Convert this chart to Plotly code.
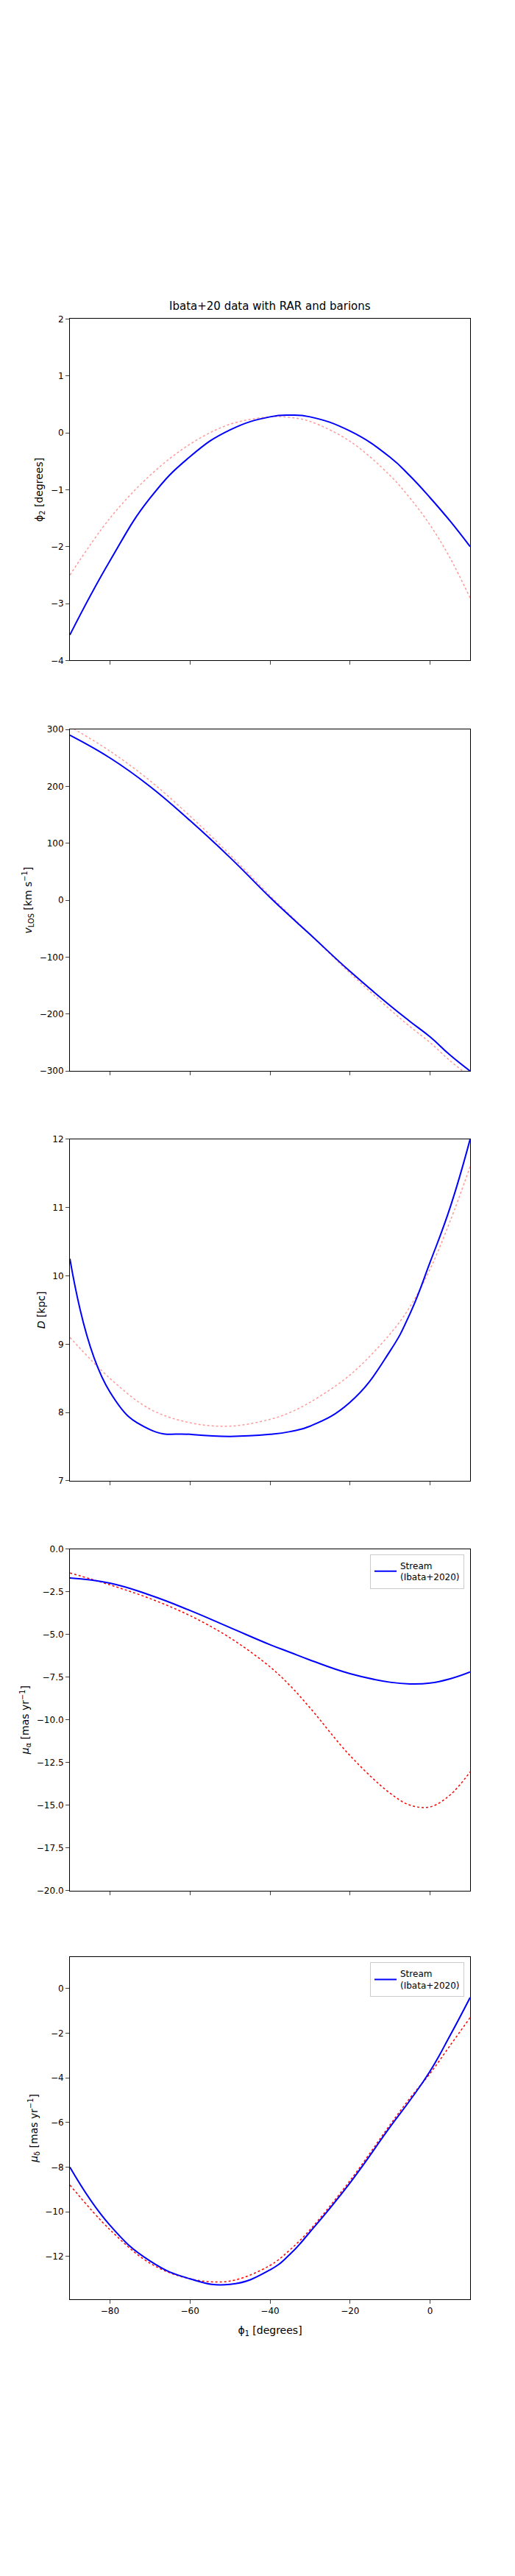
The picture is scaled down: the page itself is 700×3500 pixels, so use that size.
import plotly.graph_objects as go

# sampled phi1 grid [degrees]
phi1 = [-90, -80, -70, -60, -50, -40, -35, -30, -20, -10, -5, 0, 5, 10]

# phi2 [degrees]
phi2_stream = [-3.55, -2.25, -1.15, -0.42, 0.05, 0.28, 0.31, 0.28, 0.03, -0.43, -0.76, -1.14, -1.55, -2.0]
phi2_model = [-2.5, -1.5, -0.75, -0.2, 0.15, 0.28, 0.27, 0.2, -0.15, -0.75, -1.15, -1.62, -2.2, -2.9]

# v_los [km/s]
vlos_stream = [290, 250, 200, 140, 75, 5, -28, -60, -125, -185, -213, -240, -272, -300]
vlos_model = [305, 262, 210, 148, 80, 8, -26, -60, -128, -192, -222, -250, -282, -310]

# distance [kpc]
dist_stream = [10.25, 8.3, 7.75, 7.68, 7.65, 7.68, 7.72, 7.8, 8.15, 8.9, 9.45, 10.2, 11.0, 12.0]
dist_model = [9.1, 8.5, 8.05, 7.85, 7.8, 7.9, 8.0, 8.15, 8.55, 9.15, 9.55, 10.1, 10.8, 11.6]

# mu_alpha [mas/yr]
mua_stream = [-1.7, -2.0, -2.7, -3.6, -4.6, -5.6, -6.05, -6.5, -7.3, -7.8, -7.9, -7.85, -7.6, -7.2]
mua_model = [-1.4, -2.1, -2.9, -3.9, -5.2, -6.9, -8.0, -9.3, -12.1, -14.3, -15.0, -15.1, -14.4, -13.05]

# mu_delta [mas/yr]
mud_stream = [-8.0, -10.6, -12.2, -13.0, -13.25, -12.6, -11.9, -10.9, -8.7, -6.2, -5.0, -3.7, -2.1, -0.4]
mud_model = [-8.8, -10.8, -12.3, -13.0, -13.1, -12.4, -11.7, -10.8, -8.6, -6.1, -4.9, -3.8, -2.55, -1.3]

panels = [
    (phi2_stream, phi2_model, "ϕ<sub>2</sub> [degrees]", [-4, 2], 1, "rgba(255,0,0,0.4)", None),
    (vlos_stream, vlos_model, "<i>v</i><sub>LOS</sub> [km s<sup>−1</sup>]", [-300, 300], 100, "rgba(255,0,0,0.4)", None),
    (dist_stream, dist_model, "<i>D</i> [kpc]", [7, 12], 1, "rgba(255,0,0,0.4)", None),
    (mua_stream, mua_model, "<i>μ</i><sub>α</sub> [mas yr<sup>−1</sup>]", [-20, 0], 2.5, "red", "legend"),
    (mud_stream, mud_model, "<i>μ</i><sub>δ</sub> [mas yr<sup>−1</sup>]", [-13.9, 1.4], 2, "red", "legend2"),
]
tops = [420, 980, 1539, 2098, 2655]
H = 3500
ph = 466

fig = go.Figure()
layout = {}
for i, (s, m, label, yr, dt, mcol, leg) in enumerate(panels):
    n = "" if i == 0 else str(i + 1)
    fig.add_trace(go.Scatter(x=phi1, y=m, mode="lines", line=dict(color=mcol, width=1.5, dash="dot", shape="spline"),
                             showlegend=False, xaxis="x" + n, yaxis="y" + n))
    fig.add_trace(go.Scatter(x=phi1, y=s, mode="lines", line=dict(color="blue", width=2, shape="spline", smoothing=1.3),
                             name="Stream<br>(Ibata+2020)", showlegend=leg is not None,
                             legend=leg or "legend", xaxis="x" + n, yaxis="y" + n))
    top = 1 - tops[i] / H
    bot = 1 - (tops[i] + ph) / H
    layout["xaxis" + n] = dict(domain=[87 / 700, 631 / 700], range=[-90, 10], dtick=20, tick0=0,
                               anchor="y" + n, showline=True, mirror=True, linecolor="black",
                               ticks="outside", showgrid=False, zeroline=False,
                               showticklabels=(i == 4),
                               title=dict(text="ϕ<sub>1</sub> [degrees]") if i == 4 else None)
    layout["yaxis" + n] = dict(domain=[bot, top], range=yr, dtick=dt, anchor="x" + n,
                               showline=True, mirror=True, linecolor="black", ticks="outside",
                               showgrid=False, zeroline=False, title=dict(text=label, standoff=6),
                               tickformat=".1f" if dt == 2.5 else None)
    if leg:
        layout[leg] = dict(x=0.89, xanchor="right", y=top - 0.002, yanchor="top",
                           bordercolor="#ccc", borderwidth=1, bgcolor="white")

fig.update_layout(**layout)
fig.update_layout(width=700, height=H, margin=dict(l=0, r=0, t=0, b=0),
                  plot_bgcolor="white", paper_bgcolor="white",
                  font=dict(family="DejaVu Sans", size=12, color="black"),
                  annotations=[dict(text="Ibata+20 data with RAR and barions", x=359 / 700, y=1 - 414 / H,
                                    xref="paper", yref="paper", yanchor="bottom", showarrow=False,
                                    font=dict(size=15))])
fig.write_html("out.html")
